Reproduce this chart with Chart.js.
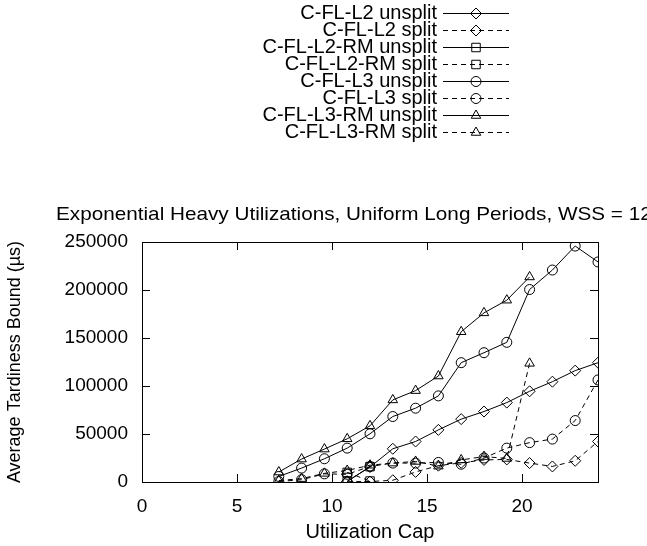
<!DOCTYPE html>
<html>
<head>
<meta charset="utf-8">
<script src="https://cdn.jsdelivr.net/npm/chart.js@4.4.1/dist/chart.umd.min.js"></script>
<style>
  html, body { margin: 0; padding: 0; background: #fff; }
</style>
</head>
<body>
<canvas id="tardinessChart" width="647" height="546"></canvas>
<script>
// utilization caps (x) shared by all series; null = no point
const caps = [7.2, 8.4, 9.6, 10.8, 12.0, 13.2, 14.4, 15.6, 16.8, 18.0, 19.2, 20.4, 21.6, 22.8, 24.0];

const l2Unsplit   = [null, null, null, 800, 15600, 34600, 42200, 54300, 65500, 73400, 82700, 94500, 104500, 116000, 124300];
const l2Split     = [null, null, null, 300, 500, 1800, 10500, 17000, 20000, 23000, 23500, 19700, 16200, 22100, 42200];
const l2RmUnsplit = [null, null, null, 500, 16000, null, null, null, null, null, null, null, null, null, null];
const l2RmSplit   = [null, null, null, 10000, 1000, null, null, null, null, null, null, null, null, null, null];
const l3Unsplit   = [5800, 14500, 24200, 35300, 50200, 68200, 76900, 89700, 124300, 134700, 145500, 200500, 220800, 245800, 229200];
const l3Split     = [500, 2400, 8500, 8000, 16200, 19700, 19700, 20400, 18500, 25000, 35300, 41000, 44700, 64000, 106300];
const l3RmUnsplit = [10400, 23900, 34300, 45000, 58500, 85500, 95200, 110400, 156500, 176200, 189400, 213600, null, null, null];
const l3RmSplit   = [1500, 3500, 9000, 12000, 17500, 19700, 21400, 16500, 23000, 26500, 24500, 123600, null, null, null];

const yTicks = [0, 50000, 100000, 150000, 200000, 250000];
const xTicks = [0, 5, 10, 15, 20];

const chartTitle = "Exponential Heavy Utilizations, Uniform Long Periods, WSS = 128K";
const FONT = "'Liberation Sans', Arial, Helvetica, sans-serif";

function toPoints(values) {
  const pts = [];
  values.forEach((v, i) => { if (v !== null) pts.push({ x: caps[i], y: v }); });
  return pts;
}

function series(label, values, style, dashed, radius) {
  return {
    label,
    data: toPoints(values),
    borderColor: "#000",
    backgroundColor: "rgba(0,0,0,0)",
    borderWidth: 1,
    borderDash: dashed ? [5, 4] : [],
    pointStyle: style,
    pointRadius: radius,
    pointBorderColor: "#000",
    pointBackgroundColor: "rgba(0,0,0,0)",
    pointBorderWidth: 1,
    tension: 0
  };
}

const datasets = [
  series("C-FL-L2 unsplit", l2Unsplit, "rectRot", false, 5.5),
  series("C-FL-L2 split", l2Split, "rectRot", true, 5.5),
  series("C-FL-L2-RM unsplit", l2RmUnsplit, "rect", false, 6),
  series("C-FL-L2-RM split", l2RmSplit, "rect", true, 6),
  series("C-FL-L3 unsplit", l3Unsplit, "circle", false, 5),
  series("C-FL-L3 split", l3Split, "circle", true, 5),
  series("C-FL-L3-RM unsplit", l3RmUnsplit, "triangle", false, 5.5),
  series("C-FL-L3-RM split", l3RmSplit, "triangle", true, 5.5)
];

// gnuplot style frame with inward ticks on all sides
const framePlugin = {
  id: "frame",
  afterDraw(chart) {
    const { ctx, chartArea: a, scales } = chart;
    ctx.save();
    ctx.strokeStyle = "#000";
    ctx.lineWidth = 1;
    ctx.setLineDash([]);
    ctx.strokeRect(Math.round(a.left) + 0.5, Math.round(a.top) + 0.5,
                   Math.round(a.right - a.left), Math.round(a.bottom - a.top));
    const len = 8;
    ctx.beginPath();
    xTicks.forEach(v => {
      const px = Math.round(scales.x.getPixelForValue(v)) + 0.5;
      ctx.moveTo(px, a.bottom); ctx.lineTo(px, a.bottom - len);
      ctx.moveTo(px, a.top); ctx.lineTo(px, a.top + len);
    });
    yTicks.forEach(v => {
      const py = Math.round(scales.y.getPixelForValue(v)) + 0.5;
      ctx.moveTo(a.left, py); ctx.lineTo(a.left + len, py);
      ctx.moveTo(a.right, py); ctx.lineTo(a.right - len, py);
    });
    ctx.stroke();
    ctx.restore();
  }
};

// title and key drawn like the gnuplot original
const keyPlugin = {
  id: "gnuKey",
  afterDraw(chart) {
    const ctx = chart.ctx;
    ctx.save();
    ctx.fillStyle = "#000";
    ctx.textBaseline = "middle";

    // title is wider than the plot in the original and runs off the right edge
    ctx.save();
    ctx.font = "19px " + FONT;
    ctx.textAlign = "left";
    ctx.translate(56, 215);
    ctx.scale(1.09, 1);
    ctx.fillText(chartTitle, 0, 0);
    ctx.restore();

    ctx.font = "20px " + FONT;
    ctx.textAlign = "right";
    chart.data.datasets.forEach((ds, i) => {
      const y = Math.round(12.5 + i * 17);
      ctx.fillStyle = "#000";
      ctx.fillText(ds.label, 437, y);
      ctx.strokeStyle = "#000";
      ctx.lineWidth = 1;
      ctx.setLineDash(ds.borderDash);
      ctx.beginPath();
      ctx.moveTo(443, y + 0.5);
      ctx.lineTo(509, y + 0.5);
      ctx.stroke();
      ctx.setLineDash([]);
      ctx.fillStyle = "rgba(0,0,0,0)";
      Chart.helpers.drawPoint(ctx, {
        pointStyle: ds.pointStyle, radius: ds.pointRadius, rotation: 0, borderWidth: 1
      }, 476, y + 0.5);
    });
    ctx.restore();
  }
};

new Chart(document.getElementById("tardinessChart"), {
  type: "line",
  data: { datasets },
  options: {
    responsive: false,
    animation: false,
    devicePixelRatio: 1,
    layout: { padding: { top: 242, right: 49, left: 0, bottom: 0 } },
    plugins: { legend: { display: false }, title: { display: false }, tooltip: { enabled: false } },
    scales: {
      x: {
        type: "linear",
        min: 0,
        max: 24,
        afterFit: s => { s.height = 64; },
        afterBuildTicks: s => { s.ticks = xTicks.map(v => ({ value: v })); },
        grid: { display: false, drawTicks: false },
        border: { display: false },
        ticks: { color: "#000", font: { family: FONT, size: 19 }, padding: 13, maxRotation: 0 },
        title: { display: true, text: "Utilization Cap", color: "#000", font: { family: FONT, size: 20 }, padding: { top: 4, bottom: 2 } }
      },
      y: {
        type: "linear",
        min: 0,
        max: 250000,
        afterFit: s => { s.width = 142; },
        afterBuildTicks: s => { s.ticks = yTicks.map(v => ({ value: v })); },
        grid: { display: false, drawTicks: false },
        border: { display: false },
        ticks: { color: "#000", font: { family: FONT, size: 19 }, padding: 14, callback: v => String(v) },
        title: { display: true, text: "Average Tardiness Bound (\u00b5s)", color: "#000", font: { family: FONT, size: 18 }, padding: { top: 4, bottom: 4 } }
      }
    }
  },
  plugins: [framePlugin, keyPlugin]
});
</script>
</body>
</html>
